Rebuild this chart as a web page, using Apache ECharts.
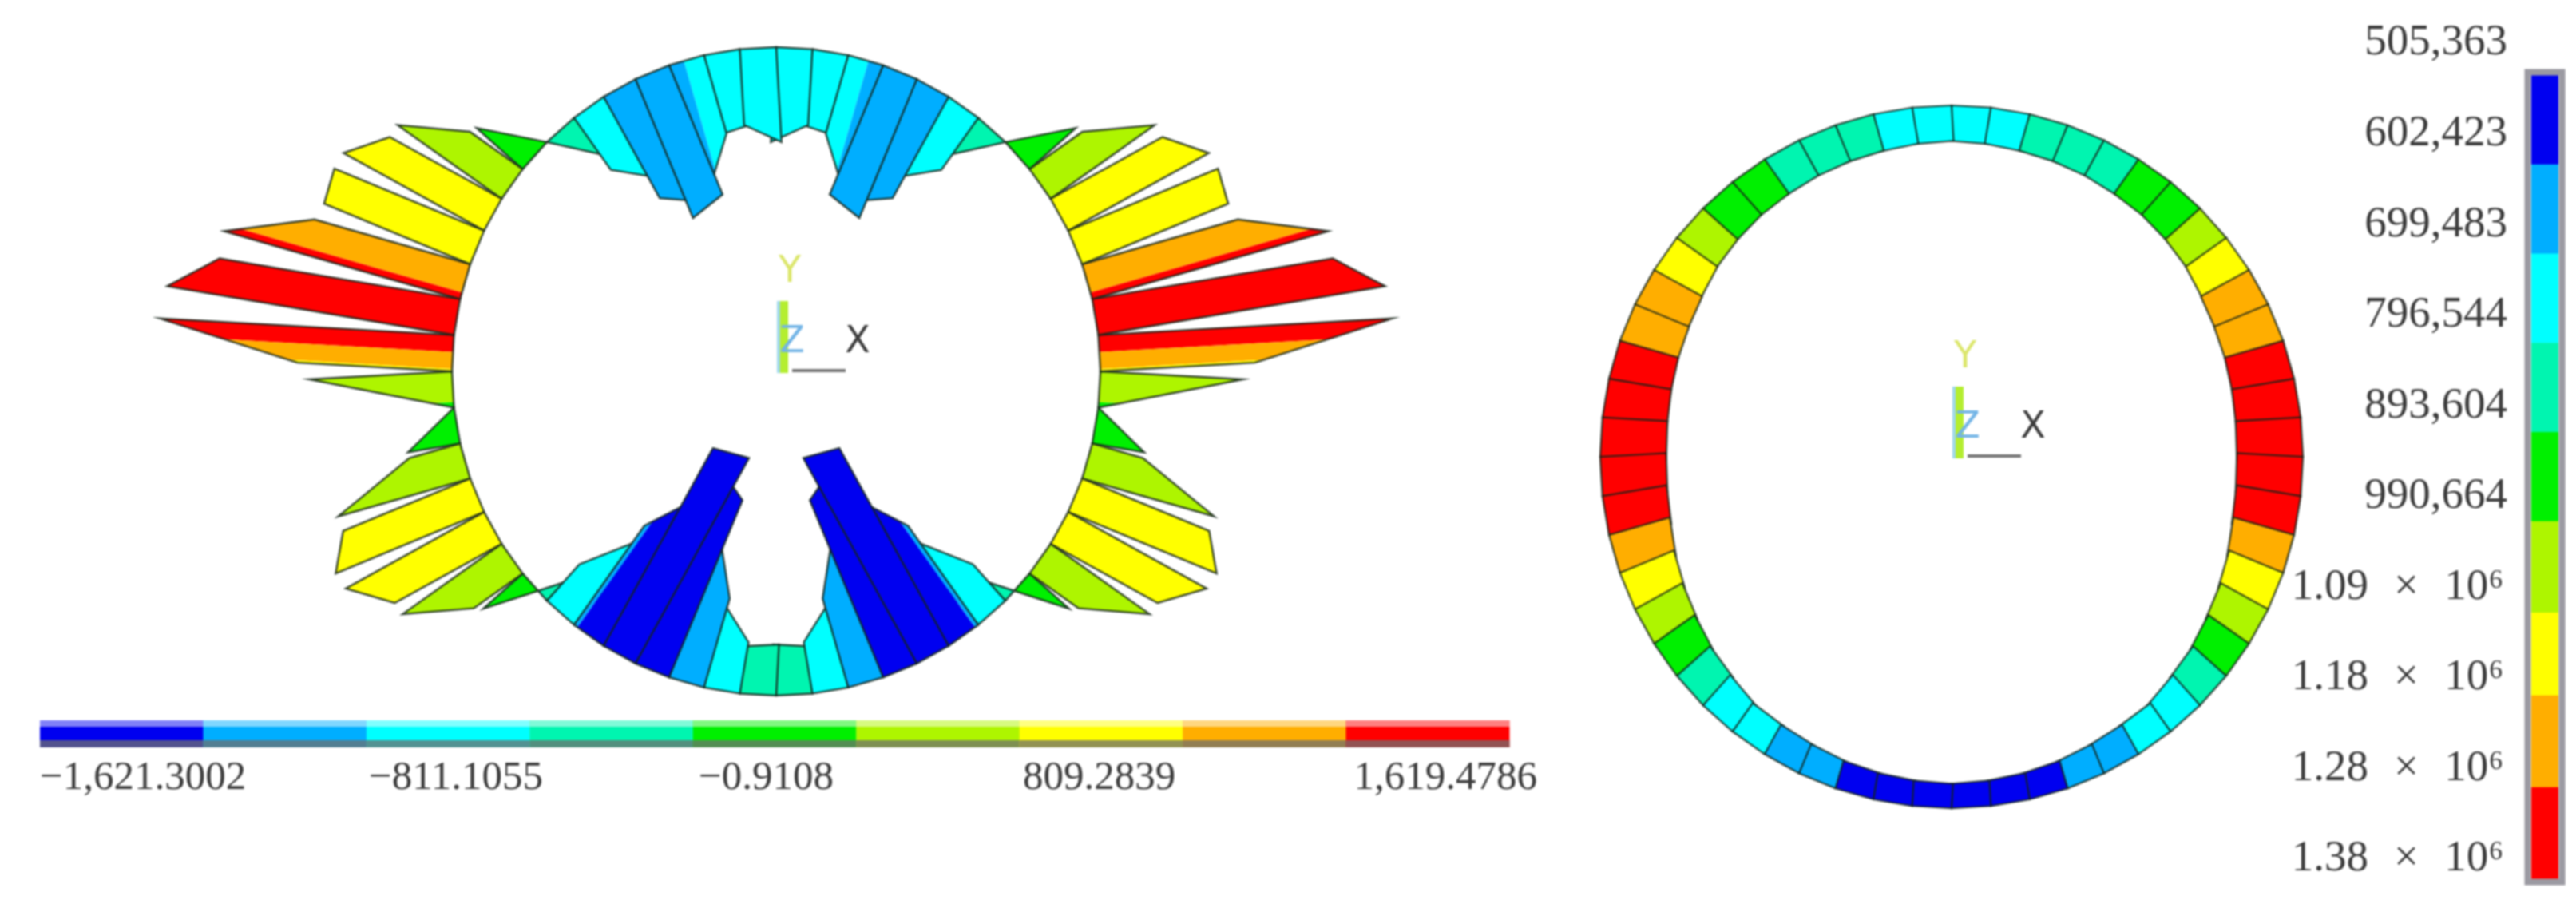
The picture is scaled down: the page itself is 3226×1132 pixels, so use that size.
<!DOCTYPE html>
<html>
<head>
<meta charset="utf-8">
<style>
html,body{margin:0;padding:0;background:#fff;}
#c{width:3226px;height:1132px;filter:blur(0.8px);}
</style>
<script src="https://cdn.jsdelivr.net/npm/echarts@6/dist/echarts.min.js"></script>
</head>
<body>
<div id="c"></div>
<script>
// ---------- DATA (right half of the ring, crown to invert; the ring is symmetric about the Y axis) ----------
const momentStart = [-522,-417,-447,-768,-768,-548,-280,0,355,702,890,890,1340,1619,785,0,290,755,868,666,290,-267,-667,-1241,-1184,-939,-509,-259];
const momentEnd   = [-417,-447,-754,-825,-636,-350,0,340,700,882,868,1350,1598,850,0,290,754,882,671,330,-165,-667,-1053,-1289,-1053,-509,-285,-281];
const contourStart = [-700,-700,-800,-1000,-1000,-700,-400,0,400,700,700,950,1400,1619,520,0,400,700,700,400,178,-700,-1230,-1400,-1400,-1050,-700,-350];
const contourEnd   = [-700,-700,-975,-1000,-1000,-700,-400,0,400,700,700,1330,1400,850,120,0,400,700,700,400,-383,-700,-1500,-1400,-1400,-1050,-700,-350];
const momentEdges = [-1621.3002,-1261.2,-901.2,-541.1,-181,179.1,539.2,899.3,1259.4,1619.4786];
const momentTicks = [-1621.3002,-811.1055,-0.9108,809.2839,1619.4786];
const momentTickLabels = ['−1,621.3002','−811.1055','−0.9108','809.2839','1,619.4786'];

const axialNodes = [740000,760000,790000,810000,840000,880000,910000,970000,1040000,1150000,1220000,1270000,1320000,1360000,1380000,1360000,1320000,1220000,1130000,1040000,930000,850000,730000,710000,660000,600000,560000,530000,510000];
const axialEdges = [505363,602423,699483,796544,893604,990664,1090000,1180000,1280000,1380000];
const GAP = '\u00A0\u00A0\u200A';
const axialTickLabels = ['505,363','602,423','699,483','796,544','893,604','990,664',
  '1.09' + GAP + '×' + GAP + '10⁶\u200A', '1.18' + GAP + '×' + GAP + '10⁶\u200A', '1.28' + GAP + '×' + GAP + '10⁶\u200A', '1.38' + GAP + '×' + GAP + '10⁶\u200A'];

const bandColors = ['#0000f0','#00aeff','#00ffff','#00f5b0','#00f000','#aef500','#ffff00','#ffae00','#ff0000'];

// ---------- LAYOUT ----------
const ELEMENTS = 28;
const STEP = Math.PI / ELEMENTS;
const R1 = 406, C1 = [972, 465];      // px
const R2 = 440, C2 = [2444, 572];     // px
const MOMENT_SCALE = 0.228 / R1;      // ring radii per unit moment
const AXIAL_SCALE = 60e-6 / R2;       // ring radii per unit axial force
const LINE = 'rgba(20,35,25,0.85)';
const SERIF = '"Liberation Serif", serif';
const LABEL_SHIFT = [0, -48, -95, -149, 35];   // px from tick position to text anchor
const LABEL_ALIGN = ['left','left','left','left','right'];

function bandOf(v, edges) {
  for (let i = 0; i < 9; i++) if (v < edges[i + 1]) return Math.max(i, 0);
  return 8;
}

// one ring element, model space: radius 1, y up
function elementCorners(side, k, a, b, scale) {
  const th0 = k * STEP, th1 = (k + 1) * STEP, m = (k + 0.5) * STEP;
  const n = [side * Math.sin(m), Math.cos(m)];
  const A = [side * Math.sin(th0), Math.cos(th0)];
  const B = [side * Math.sin(th1), Math.cos(th1)];
  return {A, B,
    A2: [A[0] + n[0] * a * scale, A[1] + n[1] * a * scale],
    B2: [B[0] + n[0] * b * scale, B[1] + n[1] * b * scale]};
}
const lerp = (p, q, t) => [p[0] + (q[0] - p[0]) * t, p[1] + (q[1] - p[1]) * t];

function momentItem(params, api) {
  const side = api.value(0), k = api.value(1);
  const c = elementCorners(side, k, api.value(2), api.value(3), MOMENT_SCALE);
  const c0 = api.value(4), c1 = api.value(5);
  const ts = [0, 1];
  if (c0 !== c1) momentEdges.forEach(e => { const t = (e - c0) / (c1 - c0); if (t > 0 && t < 1) ts.push(t); });
  ts.sort((x, y) => x - y);
  const children = [];
  for (let i = 0; i < ts.length - 1; i++) {
    const t0 = ts[i], t1 = ts[i + 1], val = c0 + (c1 - c0) * (t0 + t1) / 2;
    const pts = [lerp(c.A, c.B, t0), lerp(c.A, c.B, t1), lerp(c.A2, c.B2, t1), lerp(c.A2, c.B2, t0)].map(p => api.coord(p));
    children.push({type: 'polygon', shape: {points: pts}, style: {fill: bandColors[bandOf(val, momentEdges)], stroke: null}});
  }
  children.push({type: 'polygon', shape: {points: [c.A, c.B, c.B2, c.A2].map(p => api.coord(p))},
    style: {fill: 'none', stroke: LINE, lineWidth: 2.4, lineJoin: 'miter'}});
  return {type: 'group', children};
}

function axialItem(params, api) {
  const side = api.value(0), k = api.value(1), a = api.value(2), b = api.value(3);
  const c = elementCorners(side, k, -a, -b, AXIAL_SCALE);
  return {type: 'polygon', shape: {points: [c.A, c.B, c.B2, c.A2].map(p => api.coord(p))},
    style: {fill: bandColors[bandOf((a + b) / 2, axialEdges)], stroke: LINE, lineWidth: 2.2}};
}

function triad(params, api) {
  const o = api.coord([0, 0]);
  const txt = (s, dx, dy, col) => ({type: 'text', style: {text: s, x: o[0] + dx, y: o[1] + dy, fill: col,
    font: '46px "DejaVu Sans"', align: 'center', verticalAlign: 'middle'}});
  return {type: 'group', children: [
    {type: 'rect', shape: {x: o[0] + 1, y: o[1] - 88, width: 5, height: 90}, style: {fill: '#9fd8e8'}},
    {type: 'rect', shape: {x: o[0] + 5, y: o[1] - 88, width: 10, height: 90}, style: {fill: '#b4ee30'}},
    {type: 'rect', shape: {x: o[0] + 20, y: o[1] - 3, width: 67, height: 4}, style: {fill: '#777'}},
    txt('Y', 17, -124, '#dbe66a'),
    txt('Z', 20, -36, '#72b4e6'),
    txt('X', 102, -36, '#3c3c3c')
  ]};
}

const momentData = [], axialData = [];
[1, -1].forEach(side => {
  for (let k = 0; k < ELEMENTS; k++) {
    momentData.push([side, k, momentStart[k], momentEnd[k], contourStart[k], contourEnd[k]]);
    axialData.push([side, k, axialNodes[k], axialNodes[k + 1]]);
  }
});
momentData.sort((p, q) => (Math.abs(p[2]) + Math.abs(p[3])) - (Math.abs(q[2]) + Math.abs(q[3])));

const bandData = bandColors.map((_, i) => [i]);

const hidden = (gridIndex, min, max, extra) => Object.assign({type: 'value', gridIndex, min, max, show: false, scale: true}, extra || {});

const option = {
  animation: false,
  backgroundColor: '#fff',
  grid: [
    {left: C1[0] - 2 * R1, top: C1[1] - 1.1 * R1, width: 4 * R1, height: 2.2 * R1},
    {left: C2[0] - 1.1 * R2, top: C2[1] - 1.1 * R2, width: 2.2 * R2, height: 2.2 * R2},
    {left: 50, top: 902, width: 1840, height: 34},
    {left: 3170, top: 94, width: 34, height: 1007},
    {left: 3140, top: 54, width: 2, height: 1022}
  ],
  xAxis: [
    hidden(0, -2, 2), hidden(1, -1.1, 1.1),
    hidden(2, momentEdges[0], momentEdges[9]),
    hidden(3, 0, 1),
    hidden(4, 0, 1)
  ],
  yAxis: [
    hidden(0, -1.1, 1.1), hidden(1, -1.1, 1.1),
    hidden(2, 0, 1),
    hidden(3, axialEdges[0], axialEdges[9], {inverse: true}),
    {type: 'category', gridIndex: 4, data: axialTickLabels, inverse: true, boundaryGap: false,
     axisLine: {show: false}, axisTick: {show: false}, splitLine: {show: false},
     axisLabel: {show: true, interval: 0, margin: 0, hideOverlap: false, color: '#3b3b3b', fontSize: 55, fontFamily: SERIF}}
  ],
  series: [
    {type: 'custom', name: 'Bending moment', xAxisIndex: 0, yAxisIndex: 0, silent: true, clip: false,
     data: momentData, renderItem: momentItem},
    {type: 'custom', name: 'triad left', xAxisIndex: 0, yAxisIndex: 0, silent: true, clip: false,
     data: [[0, 0]], renderItem: triad},
    {type: 'custom', name: 'Axial force', xAxisIndex: 1, yAxisIndex: 1, silent: true, clip: false,
     data: axialData, renderItem: axialItem},
    {type: 'custom', name: 'triad right', xAxisIndex: 1, yAxisIndex: 1, silent: true, clip: false,
     data: [[0, 0]], renderItem: triad},
    {type: 'custom', name: 'moment scale', xAxisIndex: 2, yAxisIndex: 2, silent: true, clip: false,
     data: bandData,
     renderItem(params, api) {
       const i = api.value(0);
       const p0 = api.coord([momentEdges[i], 1]), p1 = api.coord([momentEdges[i + 1], 0]);
       const x = p0[0], w = p1[0] - p0[0], y = p0[1], h = p1[1] - p0[1];
       return {type: 'group', children: [
         {type: 'rect', shape: {x, y, width: w + 0.5, height: h}, style: {fill: bandColors[i]}},
         {type: 'rect', shape: {x, y, width: w + 0.5, height: 8}, style: {fill: 'rgba(255,255,255,0.5)'}},
         {type: 'rect', shape: {x, y: y + h - 9, width: w + 0.5, height: 9}, style: {fill: 'rgba(110,110,110,0.75)'}}
       ]};
     }},
    {type: 'custom', name: 'moment ticks', xAxisIndex: 2, yAxisIndex: 2, silent: true, clip: false,
     data: momentTicks.map((v, i) => [v, i]),
     renderItem(params, api) {
       const i = api.value(1), p = api.coord([api.value(0), 0]);
       return {type: 'text', style: {text: momentTickLabels[i], x: p[0] + LABEL_SHIFT[i], y: p[1] + 39,
         fill: '#3b3b3b', font: '51px ' + SERIF, align: LABEL_ALIGN[i], verticalAlign: 'middle'}};
     }},
    {type: 'custom', name: 'axial scale', xAxisIndex: 3, yAxisIndex: 3, silent: true, clip: false,
     data: bandData,
     renderItem(params, api) {
       const i = api.value(0);
       const p0 = api.coord([0, axialEdges[i]]), p1 = api.coord([1, axialEdges[i + 1]]);
       return {type: 'rect', shape: {x: p0[0], y: p0[1], width: p1[0] - p0[0], height: p1[1] - p0[1] + 0.5},
         style: {fill: bandColors[i]}};
     }},
    {type: 'custom', name: 'axial frame', xAxisIndex: 3, yAxisIndex: 3, silent: true, clip: false,
     data: [[0]],
     renderItem(params, api) {
       const p0 = api.coord([0, axialEdges[0]]), p1 = api.coord([1, axialEdges[9]]);
       return {type: 'rect', shape: {x: p0[0] - 4.5, y: p0[1] - 3.5, width: p1[0] - p0[0] + 9, height: p1[1] - p0[1] + 7},
         style: {fill: 'none', stroke: '#9b9aa2', lineWidth: 8}};
     }}
  ]
};
const chart = echarts.init(document.getElementById('c'), null, {renderer: 'canvas'});
chart.setOption(option);
</script>
</body>
</html>
